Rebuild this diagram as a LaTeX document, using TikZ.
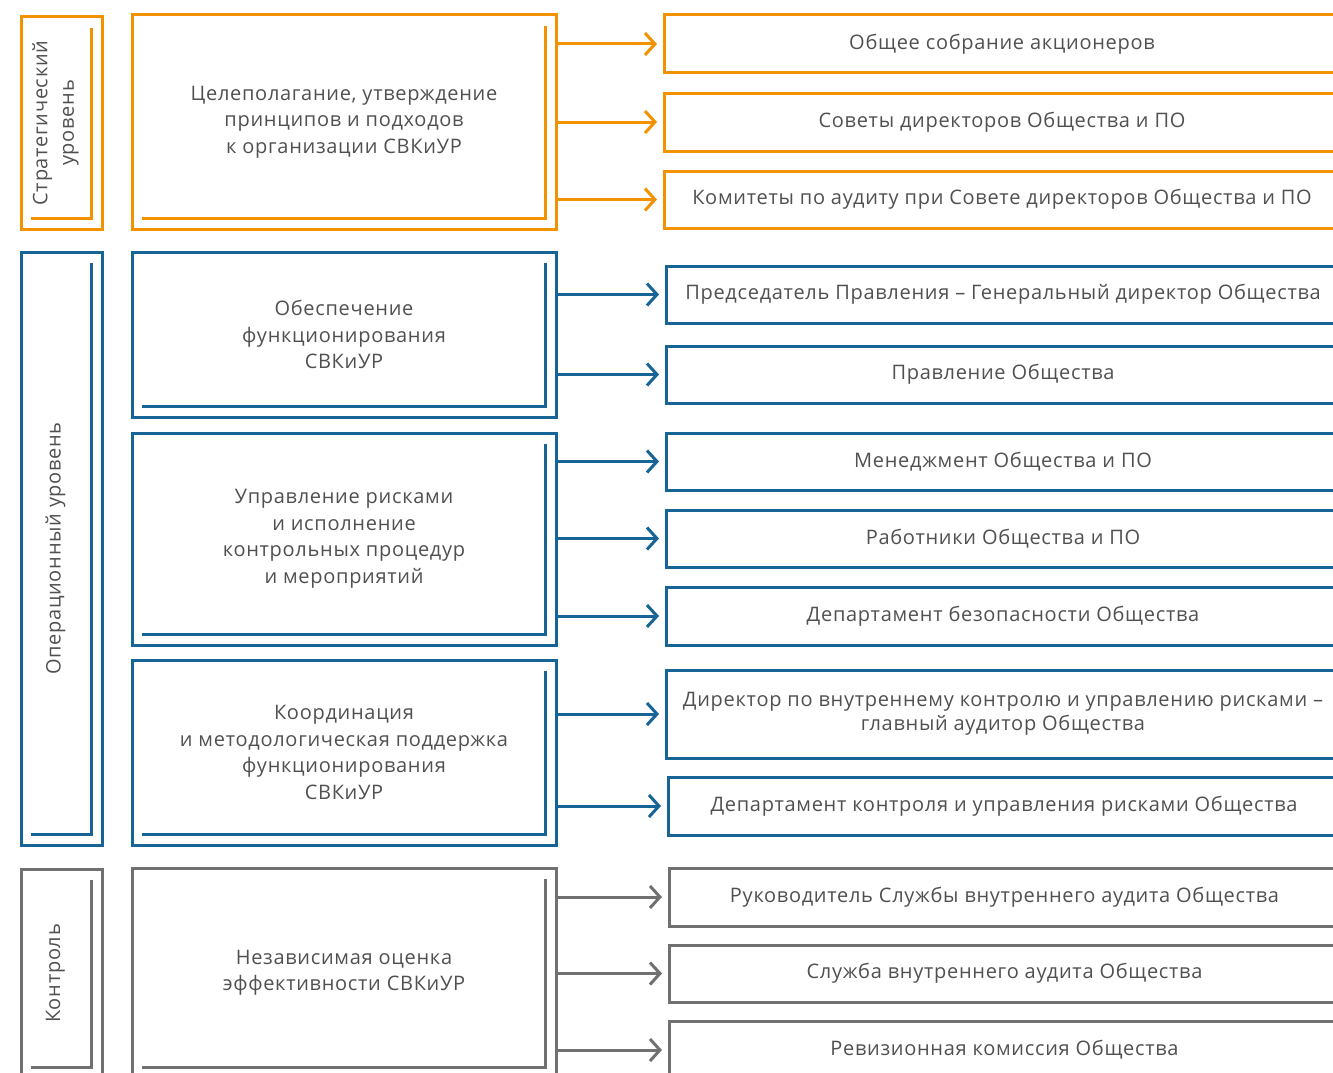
\documentclass[tikz,border=0pt]{standalone}
\usepackage{fontspec}
\setmainfont{Open Sans}[LetterSpace=3.5]
\usetikzlibrary{arrows.meta}
\definecolor{orng}{HTML}{F39200}
\definecolor{blu}{HTML}{176497}
\definecolor{gry}{HTML}{707070}
\definecolor{txt}{HTML}{505050}

\begin{document}
\begin{tikzpicture}[x=1pt,y=-1pt,
    box/.style={draw=#1,line width=3pt,anchor=north west,inner sep=0pt,outer sep=0pt,
      text=txt,align=center,font=\fontsize{20}{26.5}\selectfont},
    dbl/.style={path picture={\draw[#1,line width=3pt]
      ([xshift=-11pt,yshift=-11pt]path picture bounding box.north east)
      |- ([xshift=10pt,yshift=11pt]path picture bounding box.south west);}},
    arr/.style={draw=#1,line width=3pt,shorten >=7pt,
      -{Straight Barb[length=10pt,width=22pt,line width=3pt]}},
    lbl/.style={rotate=90,text=txt,align=center,font=\fontsize{20}{26.5}\selectfont}]
    \useasboundingbox (0,0) rectangle (1333,1073);
    \clip (0,0) rectangle (1333,1073);

    \node[box=orng,dbl=orng,minimum width=81pt,minimum height=212pt] at (21,17) (strat) {};
    \node[lbl] at ([xshift=-6pt]strat.center) (stratlbl) {Стратегический\\уровень};
    \node[box=orng,dbl=orng,minimum width=424pt,minimum height=214pt] at (132,15) (goal)
      {Целеполагание, утверждение\\принципов и подходов\\к организации СВКиУР};
    \node[box=orng,minimum width=676pt,minimum height=58pt] at (664,15) (gsm) {Общее собрание акционеров};
    \node[box=orng,minimum width=676pt,minimum height=58pt] at (664,93) (bod) {Советы директоров Общества и ПО};
    \node[box=orng,minimum width=676pt,minimum height=57pt] at (664,171) (audc) {Комитеты по аудиту при Совете директоров Общества и ПО};
    \draw[arr=orng] (gsm.west -| goal.east) -- (gsm.west);
    \draw[arr=orng] (bod.west -| goal.east) -- (bod.west);
    \draw[arr=orng] (audc.west -| goal.east) -- (audc.west);

    \node[box=blu,dbl=blu,minimum width=81pt,minimum height=593pt] at (21,252) (oper) {};
    \node[lbl] at ([xshift=-6pt]oper.center) (operlbl) {Операционный уровень};
    \node[box=blu,dbl=blu,minimum width=424pt,minimum height=165pt] at (132,252) (supp)
      {Обеспечение\\функционирования\\СВКиУР};
    \node[box=blu,dbl=blu,minimum width=424pt,minimum height=212pt] at (132,433) (risk)
      {Управление рисками\\и исполнение\\контрольных процедур\\и мероприятий};
    \node[box=blu,dbl=blu,minimum width=424pt,minimum height=185pt] at (132,660) (coord)
      {Координация\\и методологическая поддержка\\функционирования\\СВКиУР};
    \node[box=blu,minimum width=674pt,minimum height=57pt] at (666,266) (ceo) {Председатель Правления – Генеральный директор Общества};
    \node[box=blu,minimum width=674pt,minimum height=57pt] at (666,346) (mboard) {Правление Общества};
    \node[box=blu,minimum width=674pt,minimum height=57pt] at (666,433) (mgmt) {Менеджмент Общества и ПО};
    \node[box=blu,minimum width=674pt,minimum height=57pt] at (666,510) (staff) {Работники Общества и ПО};
    \node[box=blu,minimum width=674pt,minimum height=58pt] at (666,587) (secur) {Департамент безопасности Общества};
    \node[box=blu,minimum width=674pt,minimum height=88pt,font=\fontsize{20}{24}\selectfont] at (666,670) (dir)
      {Директор по внутреннему контролю и управлению рисками –\\главный аудитор Общества};
    \node[box=blu,minimum width=672pt,minimum height=58pt] at (668,777) (dept) {Департамент контроля и управления рисками Общества};
    \draw[arr=blu] (ceo.west -| supp.east) -- (ceo.west);
    \draw[arr=blu] (mboard.west -| supp.east) -- (mboard.west);
    \draw[arr=blu] (mgmt.west -| risk.east) -- (mgmt.west);
    \draw[arr=blu] (staff.west -| risk.east) -- (staff.west);
    \draw[arr=blu] (secur.west -| risk.east) -- (secur.west);
    \draw[arr=blu] (dir.west -| coord.east) -- (dir.west);
    \draw[arr=blu] (dept.west -| coord.east) -- (dept.west);

    \node[box=gry,dbl=gry,minimum width=81pt,minimum height=209pt] at (21,869) (ctrl) {};
    \node[lbl] at ([xshift=-6pt]ctrl.center) (ctrllbl) {Контроль};
    \node[box=gry,dbl=gry,minimum width=424pt,minimum height=210pt] at (132,868) (indep)
      {Независимая оценка\\эффективности СВКиУР};
    \node[box=gry,minimum width=671pt,minimum height=58pt] at (669,868) (iahead) {Руководитель Службы внутреннего аудита Общества};
    \node[box=gry,minimum width=671pt,minimum height=57pt] at (669,945) (ia) {Служба внутреннего аудита Общества};
    \node[box=gry,minimum width=671pt,minimum height=58pt] at (669,1021) (rev) {Ревизионная комиссия Общества};
    \draw[arr=gry] (iahead.west -| indep.east) -- (iahead.west);
    \draw[arr=gry] (ia.west -| indep.east) -- (ia.west);
    \draw[arr=gry] (rev.west -| indep.east) -- (rev.west);
\end{tikzpicture}
\end{document}
